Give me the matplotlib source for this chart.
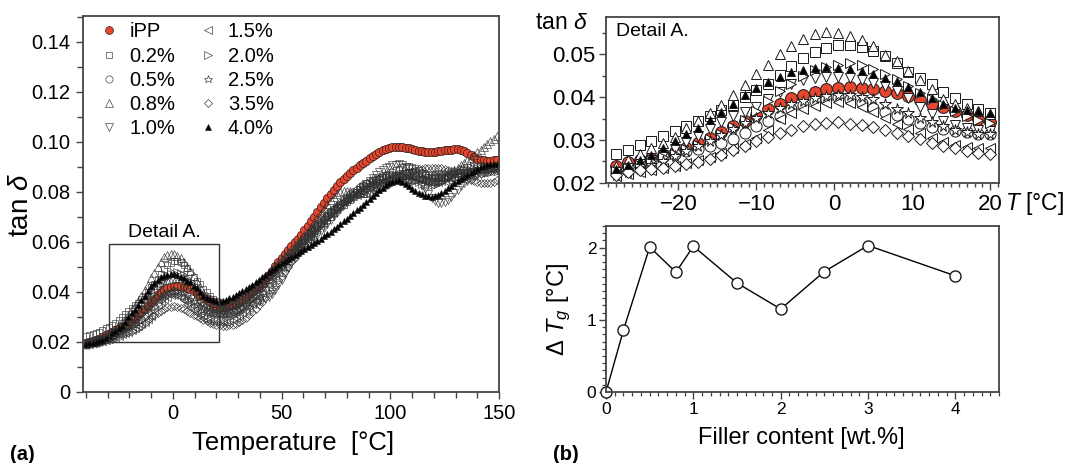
import numpy as np
import matplotlib
matplotlib.use("Agg")
import matplotlib.pyplot as plt
from matplotlib.patches import Rectangle
from matplotlib.ticker import MultipleLocator, FuncFormatter

plt.rcParams['font.family'] = ['Liberation Sans', 'DejaVu Sans']
plt.rcParams['mathtext.fontset'] = 'custom'
plt.rcParams['mathtext.rm'] = 'Liberation Sans'
plt.rcParams['mathtext.it'] = 'Liberation Sans:italic'
plt.rcParams['axes.unicode_minus'] = True

# ---------------- data ----------------
temperature = [
    -40.0, -38.5, -37.0, -35.5, -34.0, -32.5, -31.0, -29.5, -28.0, -26.5,
    -25.0, -23.5, -22.0, -20.5, -19.0, -17.5, -16.0, -14.5, -13.0, -11.5,
    -10.0, -8.5, -7.0, -5.5, -4.0, -2.5, -1.0, 0.5, 2.0, 3.5,
    5.0, 6.5, 8.0, 9.5, 11.0, 12.5, 14.0, 15.5, 17.0, 18.5,
    20.0, 21.5, 23.0, 24.5, 26.0, 27.5, 29.0, 30.5, 32.0, 33.5,
    35.0, 36.5, 38.0, 39.5, 41.0, 42.5, 44.0, 45.5, 47.0, 48.5,
    50.0, 51.5, 53.0, 54.5, 56.0, 57.5, 59.0, 60.5, 62.0, 63.5,
    65.0, 66.5, 68.0, 69.5, 71.0, 72.5, 74.0, 75.5, 77.0, 78.5,
    80.0, 81.5, 83.0, 84.5, 86.0, 87.5, 89.0, 90.5, 92.0, 93.5,
    95.0, 96.5, 98.0, 99.5, 101.0, 102.5, 104.0, 105.5, 107.0, 108.5,
    110.0, 111.5, 113.0, 114.5, 116.0, 117.5, 119.0, 120.5, 122.0, 123.5,
    125.0, 126.5, 128.0, 129.5, 131.0, 132.5, 134.0, 135.5, 137.0, 138.5,
    140.0, 141.5, 143.0, 144.5, 146.0, 147.5, 149.0]

tan_ipp = [
    .0190, .0195, .0200, .0205, .0212, .0218, .0225, .0232, .0239, .0248,
    .0253, .0258, .0264, .0272, .0281, .0292, .0305, .0318, .0332, .0344,
    .0359, .0372, .0385, .0397, .0406, .0413, .0419, .0422, .0423, .0422,
    .0419, .0415, .0410, .0402, .0393, .0384, .0377, .0368, .0358, .0348,
    .0342, .0338, .0337, .0338, .0341, .0346, .0352, .0359, .0367, .0376,
    .0386, .0397, .0409, .0422, .0436, .0451, .0467, .0484, .0502, .0519,
    .0535, .0551, .0566, .0582, .0597, .0612, .0628, .0645, .0663, .0682,
    .0700, .0719, .0738, .0756, .0774, .0791, .0808, .0823, .0837, .0850,
    .0862, .0874, .0885, .0896, .0906, .0915, .0924, .0933, .0941, .0950,
    .0958, .0965, .0971, .0975, .0978, .0979, .0979, .0978, .0976, .0973,
    .0970, .0967, .0964, .0961, .0959, .0958, .0958, .0959, .0961, .0963,
    .0965, .0967, .0968, .0969, .0969, .0967, .0962, .0955, .0946, .0938,
    .0931, .0927, .0925, .0924, .0924, .0925, .0926]

tan_02 = [
    .0222, .0226, .0230, .0235, .0240, .0246, .0253, .0260, .0267, .0276,
    .0287, .0297, .0309, .0322, .0333, .0345, .0356, .0369, .0382, .0400,
    .0417, .0431, .0451, .0472, .0492, .0505, .0515, .0523, .0523, .0518,
    .0508, .0495, .0480, .0459, .0444, .0430, .0411, .0397, .0384, .0372,
    .0363, .0359, .0356, .0355, .0357, .0361, .0366, .0373, .0381, .0390,
    .0399, .0409, .0419, .0430, .0441, .0453, .0465, .0477, .0489, .0500,
    .0511, .0522, .0534, .0546, .0558, .0570, .0583, .0596, .0609, .0622,
    .0635, .0648, .0661, .0674, .0687, .0700, .0713, .0725, .0737, .0748,
    .0758, .0768, .0777, .0786, .0795, .0804, .0813, .0822, .0831, .0840,
    .0849, .0857, .0865, .0872, .0879, .0886, .0892, .0897, .0900, .0901,
    .0899, .0893, .0885, .0876, .0867, .0860, .0855, .0853, .0853, .0855,
    .0858, .0862, .0866, .0870, .0873, .0876, .0878, .0880, .0882, .0884,
    .0886, .0888, .0890, .0892, .0894, .0896, .0898]

tan_05 = [
    .0195, .0198, .0201, .0204, .0207, .0211, .0216, .0222, .0228, .0236,
    .0243, .0251, .0259, .0266, .0273, .0279, .0285, .0292, .0302, .0317,
    .0332, .0344, .0357, .0372, .0382, .0390, .0396, .0400, .0395, .0386,
    .0375, .0366, .0358, .0350, .0339, .0331, .0325, .0320, .0318, .0315,
    .0315, .0313, .0312, .0313, .0316, .0321, .0328, .0337, .0347, .0358,
    .0370, .0383, .0396, .0410, .0424, .0438, .0452, .0466, .0480, .0494,
    .0508, .0522, .0536, .0550, .0564, .0578, .0592, .0606, .0620, .0634,
    .0648, .0662, .0676, .0690, .0704, .0717, .0730, .0743, .0755, .0767,
    .0778, .0789, .0799, .0808, .0817, .0825, .0832, .0838, .0843, .0847,
    .0851, .0854, .0857, .0860, .0863, .0866, .0869, .0872, .0874, .0876,
    .0877, .0877, .0876, .0874, .0871, .0868, .0865, .0862, .0860, .0859,
    .0858, .0858, .0859, .0860, .0862, .0864, .0866, .0868, .0870, .0872,
    .0874, .0876, .0878, .0880, .0882, .0884, .0886]

tan_08 = [
    .0198, .0201, .0204, .0207, .0210, .0214, .0220, .0228, .0238, .0252,
    .0268, .0280, .0292, .0306, .0329, .0344, .0362, .0382, .0405, .0428,
    .0453, .0475, .0500, .0520, .0537, .0548, .0552, .0550, .0543, .0533,
    .0519, .0499, .0484, .0462, .0440, .0418, .0396, .0383, .0375, .0368,
    .0361, .0357, .0354, .0352, .0352, .0354, .0358, .0364, .0372, .0382,
    .0393, .0405, .0418, .0431, .0445, .0459, .0473, .0487, .0501, .0515,
    .0528, .0541, .0554, .0567, .0580, .0594, .0609, .0625, .0642, .0660,
    .0678, .0697, .0716, .0735, .0752, .0767, .0780, .0790, .0797, .0801,
    .0802, .0801, .0799, .0797, .0795, .0794, .0795, .0798, .0803, .0810,
    .0818, .0827, .0836, .0845, .0853, .0860, .0866, .0870, .0872, .0873,
    .0872, .0869, .0864, .0858, .0852, .0847, .0844, .0844, .0847, .0852,
    .0859, .0867, .0876, .0885, .0895, .0905, .0915, .0925, .0935, .0946,
    .0957, .0968, .0979, .0990, .1001, .1012, .1022]

tan_10 = [
    .0192, .0195, .0198, .0201, .0204, .0208, .0213, .0219, .0226, .0234,
    .0243, .0253, .0264, .0278, .0295, .0310, .0325, .0343, .0355, .0365,
    .0378, .0395, .0413, .0430, .0439, .0444, .0448, .0448, .0445, .0440,
    .0434, .0426, .0414, .0398, .0378, .0360, .0344, .0334, .0328, .0324,
    .0321, .0319, .0317, .0317, .0318, .0320, .0323, .0327, .0332, .0337,
    .0343, .0349, .0355, .0361, .0367, .0373, .0380, .0390, .0405, .0425,
    .0448, .0472, .0495, .0515, .0533, .0549, .0563, .0576, .0589, .0602,
    .0615, .0628, .0642, .0656, .0671, .0686, .0701, .0716, .0731, .0745,
    .0759, .0772, .0784, .0796, .0808, .0820, .0832, .0844, .0856, .0867,
    .0877, .0886, .0894, .0900, .0905, .0908, .0909, .0906, .0899, .0889,
    .0876, .0861, .0845, .0828, .0810, .0792, .0776, .0763, .0755, .0753,
    .0757, .0767, .0780, .0794, .0808, .0821, .0833, .0843, .0852, .0859,
    .0865, .0870, .0874, .0878, .0882, .0886, .0890]

tan_15 = [
    .0190, .0192, .0195, .0198, .0201, .0204, .0208, .0212, .0216, .0220,
    .0224, .0229, .0234, .0240, .0246, .0253, .0261, .0270, .0280, .0291,
    .0304, .0324, .0348, .0362, .0372, .0380, .0386, .0388, .0386, .0378,
    .0366, .0352, .0338, .0326, .0316, .0305, .0294, .0287, .0283, .0281,
    .0280, .0279, .0279, .0280, .0283, .0288, .0295, .0303, .0313, .0324,
    .0336, .0349, .0363, .0378, .0394, .0410, .0427, .0444, .0461, .0478,
    .0495, .0512, .0529, .0546, .0563, .0580, .0597, .0614, .0631, .0648,
    .0664, .0679, .0693, .0706, .0718, .0729, .0739, .0748, .0756, .0763,
    .0769, .0775, .0781, .0787, .0793, .0799, .0806, .0813, .0820, .0827,
    .0834, .0841, .0847, .0852, .0856, .0859, .0861, .0862, .0862, .0861,
    .0859, .0856, .0852, .0848, .0844, .0841, .0839, .0838, .0839, .0841,
    .0844, .0848, .0853, .0858, .0863, .0868, .0873, .0877, .0881, .0884,
    .0886, .0888, .0889, .0890, .0891, .0892, .0893]

tan_20 = [
    .0193, .0196, .0199, .0202, .0206, .0210, .0215, .0221, .0228, .0235,
    .0242, .0250, .0259, .0268, .0278, .0289, .0301, .0315, .0330, .0347,
    .0368, .0392, .0414, .0430, .0450, .0463, .0471, .0476, .0479, .0476,
    .0466, .0455, .0442, .0427, .0410, .0395, .0381, .0367, .0356, .0346,
    .0339, .0335, .0333, .0333, .0335, .0339, .0345, .0352, .0361, .0371,
    .0382, .0394, .0407, .0420, .0434, .0448, .0462, .0476, .0490, .0504,
    .0518, .0531, .0544, .0557, .0570, .0583, .0596, .0609, .0622, .0635,
    .0648, .0660, .0672, .0684, .0696, .0708, .0720, .0732, .0744, .0756,
    .0767, .0778, .0789, .0799, .0809, .0818, .0827, .0835, .0842, .0849,
    .0855, .0860, .0864, .0867, .0868, .0868, .0867, .0864, .0860, .0855,
    .0849, .0843, .0837, .0832, .0828, .0826, .0826, .0828, .0832, .0838,
    .0845, .0853, .0861, .0869, .0877, .0884, .0890, .0895, .0899, .0902,
    .0904, .0905, .0905, .0904, .0903, .0902, .0901]

tan_25 = [
    .0188, .0190, .0193, .0196, .0199, .0202, .0206, .0211, .0217, .0224,
    .0232, .0241, .0251, .0262, .0273, .0285, .0298, .0312, .0326, .0339,
    .0352, .0364, .0375, .0384, .0392, .0398, .0402, .0404, .0404, .0401,
    .0395, .0384, .0372, .0362, .0352, .0342, .0332, .0324, .0318, .0315,
    .0313, .0311, .0309, .0309, .0310, .0313, .0318, .0325, .0334, .0345,
    .0357, .0370, .0384, .0399, .0414, .0429, .0444, .0459, .0474, .0489,
    .0504, .0519, .0534, .0549, .0564, .0579, .0594, .0608, .0622, .0636,
    .0649, .0662, .0675, .0688, .0700, .0712, .0724, .0736, .0747, .0758,
    .0769, .0779, .0789, .0798, .0807, .0815, .0823, .0830, .0836, .0841,
    .0845, .0848, .0850, .0851, .0851, .0850, .0849, .0848, .0847, .0847,
    .0847, .0848, .0850, .0853, .0856, .0859, .0862, .0865, .0868, .0871,
    .0874, .0877, .0880, .0882, .0884, .0886, .0887, .0888, .0889, .0890,
    .0891, .0892, .0893, .0894, .0895, .0896, .0897]

tan_35 = [
    .0188, .0190, .0193, .0196, .0199, .0202, .0206, .0212, .0219, .0225,
    .0229, .0232, .0235, .0239, .0244, .0249, .0255, .0264, .0276, .0286,
    .0297, .0307, .0316, .0324, .0332, .0337, .0340, .0341, .0338, .0335,
    .0330, .0323, .0316, .0308, .0301, .0293, .0286, .0281, .0275, .0270,
    .0267, .0265, .0264, .0264, .0265, .0267, .0271, .0277, .0285, .0295,
    .0306, .0318, .0331, .0345, .0360, .0376, .0393, .0410, .0428, .0446,
    .0464, .0482, .0500, .0518, .0536, .0554, .0571, .0588, .0605, .0622,
    .0638, .0654, .0670, .0686, .0701, .0715, .0728, .0740, .0751, .0761,
    .0770, .0778, .0785, .0791, .0797, .0803, .0809, .0815, .0821, .0827,
    .0833, .0839, .0845, .0851, .0857, .0862, .0867, .0872, .0876, .0880,
    .0884, .0887, .0890, .0892, .0894, .0895, .0896, .0896, .0895, .0893,
    .0890, .0886, .0881, .0876, .0870, .0864, .0858, .0852, .0847, .0842,
    .0838, .0835, .0833, .0833, .0835, .0839, .0845]

tan_40 = [
    .0190, .0193, .0196, .0199, .0203, .0208, .0215, .0224, .0233, .0242,
    .0254, .0264, .0280, .0298, .0313, .0328, .0346, .0366, .0383, .0404,
    .0421, .0435, .0447, .0458, .0463, .0467, .0470, .0469, .0465, .0460,
    .0454, .0444, .0437, .0424, .0413, .0398, .0383, .0374, .0371, .0367,
    .0363, .0360, .0362, .0367, .0373, .0380, .0387, .0395, .0403, .0411,
    .0419, .0428, .0437, .0447, .0457, .0467, .0477, .0487, .0496, .0505,
    .0513, .0521, .0529, .0537, .0545, .0553, .0561, .0569, .0577, .0585,
    .0594, .0603, .0612, .0621, .0630, .0640, .0650, .0660, .0670, .0681,
    .0692, .0703, .0714, .0725, .0736, .0747, .0758, .0770, .0782, .0794,
    .0805, .0816, .0826, .0834, .0840, .0844, .0845, .0840, .0832, .0822,
    .0812, .0803, .0795, .0789, .0784, .0781, .0780, .0782, .0787, .0795,
    .0804, .0814, .0824, .0834, .0843, .0852, .0860, .0868, .0875, .0882,
    .0891, .0897, .0902, .0906, .0909, .0911, .0912]

series_labels = ['iPP', '0.2%', '0.5%', '0.8%', '1.0%',
                 '1.5%', '2.0%', '2.5%', '3.5%', '4.0%']
series_values = [tan_ipp, tan_02, tan_05, tan_08, tan_10,
                 tan_15, tan_20, tan_25, tan_35, tan_40]

filler_content = [0.0, 0.2, 0.5, 0.8, 1.0, 1.5, 2.0, 2.5, 3.0, 4.0]
delta_tg = [0.0, 0.86, 2.01, 1.66, 2.02, 1.51, 1.15, 1.67, 2.03, 1.61]

# ---------------- styles ----------------
RED = '#e6462d'
EDGE = '#1a1a1a'
EDGE_MAIN = '#333333'
SPINE = '#444444'
markers = ['o', 's', 'o', '^', 'v', '<', '>', '*', 'D', '^']
face_main = [RED, 'none', 'none', 'none', 'none', 'none', 'none', 'none', 'none', 'black']
face_det = [RED, 'white', 'white', 'white', 'white', 'white', 'white', 'white', 'white', 'black']
ms_main = [6.0, 5.0, 5.5, 5.5, 5.5, 5.5, 5.5, 6.5, 4.5, 4.0]
ms_det = [8.5, 7.5, 8.0, 7.5, 7.5, 7.0, 7.0, 8.5, 6.2, 5.6]

T = np.array(temperature)

fig = plt.figure(figsize=(10.66, 4.63), dpi=100)
ax = fig.add_axes([0.0776, 0.1540, 0.3905, 0.8114])
axd = fig.add_axes([0.5685, 0.6054, 0.3687, 0.3585])
axb = fig.add_axes([0.5685, 0.1533, 0.3687, 0.3585])

# ---- main panel ----
handles = []
for i, (lab, vals, mk, fc, ms) in enumerate(zip(series_labels, series_values, markers,
                                                 face_main, ms_main)):
    ec = EDGE if i in (0, 9) else EDGE_MAIN
    h, = ax.plot(T, vals, linestyle='none', marker=mk, mfc=fc, mec=ec,
                 mew=0.45, ms=ms, label=lab)
    handles.append(h)

ax.set_xlim(-41.5, 150)
ax.set_ylim(0, 0.1503)
ax.xaxis.set_major_locator(MultipleLocator(50))
ax.xaxis.set_minor_locator(MultipleLocator(10))
ax.yaxis.set_major_locator(MultipleLocator(0.02))
ax.yaxis.set_minor_locator(MultipleLocator(0.01))
ax.yaxis.set_major_formatter(FuncFormatter(lambda v, p: '0' if abs(v) < 1e-9 else f'{v:.2f}'))
ax.tick_params(axis='both', which='major', direction='out', length=5, width=1,
               color=SPINE, labelsize=14.5, pad=4)
ax.tick_params(axis='both', which='minor', direction='out', length=4, width=1, color=SPINE)
ax.tick_params(top=False, right=False, which='both')
for s in ax.spines.values():
    s.set_color(SPINE)
    s.set_linewidth(1.3)

ax.set_xlabel('Temperature  [°C]', fontsize=18.5)
ax.xaxis.set_label_coords(0.505, -0.105)
ax.set_ylabel(r'tan $\delta$', fontsize=20)
ax.yaxis.set_label_coords(-0.118, 0.497)

ax.add_patch(Rectangle((-29.4, 0.020), 50.8, 0.039, fill=False,
                       edgecolor='#333333', linewidth=1.0, zorder=5))
ax.text(-4.0, 0.0603, 'Detail A.', ha='center', va='bottom', fontsize=14)

leg = ax.legend(handles=handles, ncol=2, loc='upper left',
                bbox_to_anchor=(0.040, 0.983), frameon=False, fontsize=14.5,
                handlelength=1.0, handletextpad=0.5, columnspacing=1.1,
                labelspacing=0.26, borderpad=0.0, borderaxespad=0.0,
                markerscale=0.95)

# ---- detail panel ----
mask = (T >= -29.0) & (T <= 21.0)
for vals, mk, fc, ms in zip(series_values, markers, face_det, ms_det):
    v = np.array(vals)
    axd.plot(T[mask], v[mask], linestyle='none', marker=mk, mfc=fc, mec=EDGE,
             mew=0.7, ms=ms)

axd.set_xlim(-29.3, 21.15)
axd.set_ylim(0.02, 0.0588)
axd.xaxis.set_major_locator(MultipleLocator(10))
axd.xaxis.set_minor_locator(MultipleLocator(1))
axd.yaxis.set_major_locator(MultipleLocator(0.01))
axd.yaxis.set_minor_locator(MultipleLocator(0.005))
axd.yaxis.set_major_formatter(FuncFormatter(lambda v, p: f'{v:.2f}'))
axd.tick_params(axis='both', which='major', direction='out', length=5, width=1,
                color=SPINE, labelsize=16, pad=3)
axd.tick_params(axis='both', which='minor', direction='out', length=3, width=1, color=SPINE)
axd.tick_params(top=False, right=False, which='both')
for s in axd.spines.values():
    s.set_color(SPINE)
    s.set_linewidth(1.3)
axd.text(0.025, 0.96, 'Detail A.', transform=axd.transAxes, ha='left', va='top', fontsize=14)
axd.text(-0.045, 0.965, r'tan $\delta$', transform=axd.transAxes, ha='right', va='center',
         fontsize=16.5)
axd.text(1.015, -0.125, r'$T$ [°C]', transform=axd.transAxes, ha='left', va='center',
         fontsize=16.5)

# ---- delta Tg panel ----
axb.plot(filler_content, delta_tg, color='black', linewidth=1.0, marker='o', ms=8,
         mfc='white', mec=EDGE, mew=1.0, clip_on=False, zorder=2)
axb.set_xlim(0, 4.5)
axb.set_ylim(0, 2.3)
axb.xaxis.set_major_locator(MultipleLocator(1))
axb.xaxis.set_minor_locator(MultipleLocator(0.1))
axb.yaxis.set_major_locator(MultipleLocator(1))
axb.yaxis.set_minor_locator(MultipleLocator(0.1))
axb.tick_params(axis='both', which='major', direction='out', length=5, width=1,
                color=SPINE, labelsize=12.5, pad=2)
axb.tick_params(axis='both', which='minor', direction='out', length=3, width=0.9, color=SPINE)
axb.tick_params(top=False, right=False, which='both')
for s in axb.spines.values():
    s.set_color(SPINE)
    s.set_linewidth(1.3)
axb.set_xlabel('Filler content [wt.%]', fontsize=17)
axb.xaxis.set_label_coords(0.498, -0.21)
axb.set_ylabel(r'$\Delta\ T_g$ [°C]', fontsize=17)
axb.yaxis.set_label_coords(-0.085, 0.5)

fig.text(10 / 1066, 1 - 454 / 463, '(a)', fontsize=14.5, fontweight='bold', va='center', ha='left')
fig.text(553 / 1066, 1 - 454 / 463, '(b)', fontsize=14.5, fontweight='bold', va='center', ha='left')

fig.savefig('out.png', dpi=100)
